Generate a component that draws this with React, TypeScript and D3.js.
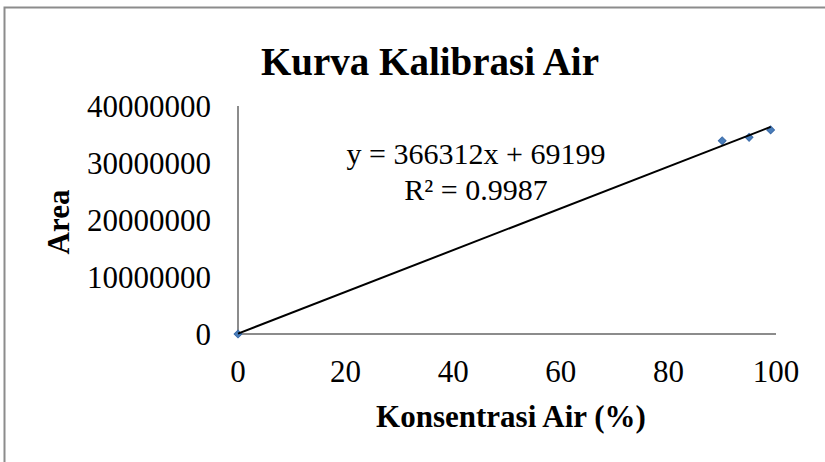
import React from "react";
import * as d3 from "d3";

const xValues = [0, 90, 95, 99];
const yValues = [0, 33900000, 34500000, 35800000];
const xTicks = [0, 20, 40, 60, 80, 100];
const yTicks = [0, 10000000, 20000000, 30000000, 40000000];
const trendSlope = 366312;
const trendIntercept = 69199;
const titleText = "Kurva Kalibrasi Air";
const xTitle = "Konsentrasi Air (%)";
const yTitle = "Area";
const eqLine1 = "y = 366312x + 69199";
const eqLine2 = "R² = 0.9987";

const W = 825;
const H = 462;
const FONT = "'Liberation Serif', 'Times New Roman', serif";

export default function App() {
  const x = d3.scaleLinear().domain([0, 100]).range([238, 776]);
  const y = d3.scaleLinear().domain([0, 40000000]).range([334, 106]);
  const points = xValues.map((v, i) => ({ x: v, y: yValues[i] }));
  const xMax = d3.max(xValues) as number;
  const xMin = d3.min(xValues) as number;
  const trend = [xMin, xMax].map((v) => ({ x: v, y: trendSlope * v + trendIntercept }));
  const line = d3
    .line<{ x: number; y: number }>()
    .x((d) => x(d.x))
    .y((d) => y(d.y));
  const sym = d3.symbol().type(d3.symbolSquare).size(30)();

  return (
    <svg
      width={W}
      height={H}
      style={{ position: "absolute", left: 0, top: 0, background: "#fff" }}
      fontFamily={FONT}
    >
      <rect x={0} y={0} width={W} height={H} fill="#fff" />
      <path d={`M4.5,${H + 10}V7.5H${W + 10}`} fill="none" stroke="#8c8c8c" strokeWidth={2} />
      <text x={430} y={75} textAnchor="middle" fontSize={39} fontWeight="bold" fill="#000">
        {titleText}
      </text>
      {/* axes */}
      <line x1={x(0)} x2={x(100)} y1={y(0)} y2={y(0)} stroke="#8c8c8c" strokeWidth={2} />
      <line x1={x(0)} x2={x(0)} y1={y(0)} y2={y(40000000)} stroke="#8c8c8c" strokeWidth={2} />
      {yTicks.map((t) => (
        <text key={t} x={211} y={y(t)} dy="0.35em" textAnchor="end" fontSize={31} fill="#000">
          {t}
        </text>
      ))}
      {xTicks.map((t) => (
        <text key={t} x={x(t)} y={382} textAnchor="middle" fontSize={31} fill="#000">
          {t}
        </text>
      ))}
      <text x={511} y={427} textAnchor="middle" fontSize={31} fontWeight="bold" fill="#000">
        {xTitle}
      </text>
      <text
        transform={`translate(69,222) rotate(-90)`}
        textAnchor="middle"
        fontSize={31}
        fontWeight="bold"
        fill="#000"
      >
        {yTitle}
      </text>
      {points.map((p, i) => (
        <path
          key={i}
          d={sym as string}
          transform={`translate(${x(p.x)},${y(p.y)}) rotate(45)`}
          fill="#4a7ebb"
          stroke="#3a6aa8"
          strokeWidth={1}
        />
      ))}
      <path d={line(trend) as string} fill="none" stroke="#000" strokeWidth={2} />
      <text x={476} y={164} textAnchor="middle" fontSize={30} fill="#000">
        {eqLine1}
      </text>
      <text x={476} y={200} textAnchor="middle" fontSize={30} fill="#000">
        {eqLine2}
      </text>
    </svg>
  );
}
